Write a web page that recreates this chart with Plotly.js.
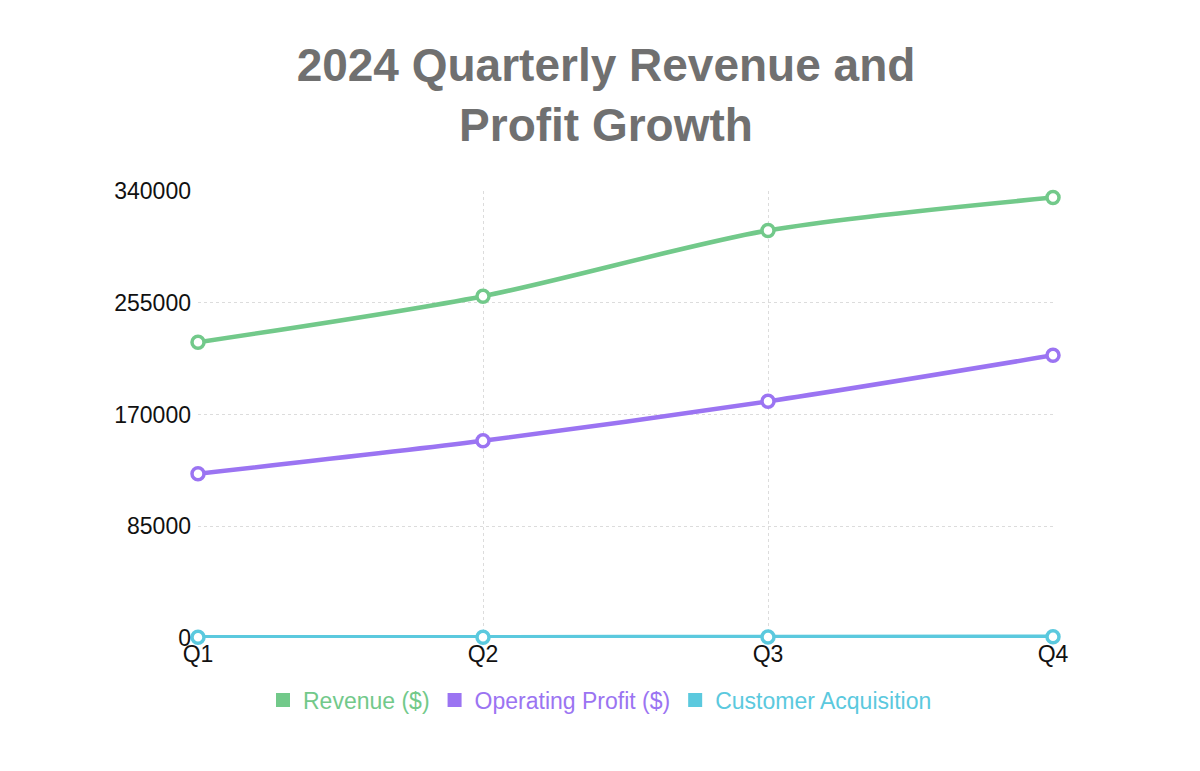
<!DOCTYPE html>
<html>
<head>
<meta charset="utf-8">
<script src="https://cdn.plot.ly/plotly-3.0.1.min.js"></script>
<style>
  html, body { margin: 0; padding: 0; background: #fff; }
  #chart { width: 1200px; height: 771px; }
</style>
</head>
<body>
<div id="chart"></div>
<script>
var quarters = ['Q1', 'Q2', 'Q3', 'Q4'];
var revenue = [225000, 260000, 310000, 335000];
var operatingProfit = [125000, 150000, 180000, 215000];
var customerAcquisition = [500, 650, 800, 950];
var yTicks = [0, 85000, 170000, 255000, 340000];

var seriesNames = ['Revenue ($)', 'Operating Profit ($)', 'Customer Acquisition'];
var seriesColors = ['#72c98a', '#9b74f2', '#5bc9de'];
var seriesValues = [revenue, operatingProfit, customerAcquisition];

var data = [];
// the lines themselves
for (var i = 0; i < seriesValues.length; i++) {
  data.push({
    x: quarters, y: seriesValues[i],
    name: seriesNames[i],
    mode: 'lines+markers',
    showlegend: false,
    cliponaxis: false,
    line: { color: seriesColors[i], width: 4.5, shape: 'spline', smoothing: 0.8 },
    marker: { symbol: 'circle', size: 12, color: '#fff', line: { color: seriesColors[i], width: 3.5 } },
    hoverinfo: 'x+y+name'
  });
}
// legend entries with square swatches
for (var j = 0; j < seriesNames.length; j++) {
  data.push({
    x: [null], y: [null],
    name: '<span style="color:' + seriesColors[j] + '">' + seriesNames[j] + '</span>',
    mode: 'markers',
    marker: { symbol: 'square', size: 14, color: seriesColors[j] },
    hoverinfo: 'skip'
  });
}

var layout = {
  width: 1200,
  height: 771,
  paper_bgcolor: '#fff',
  plot_bgcolor: '#fff',
  margin: { l: 198, r: 147, t: 191, b: 133 },
  font: { family: 'Liberation Sans, Arial, sans-serif', size: 23, color: '#111' },
  title: {
    text: '<b>2024 Quarterly Revenue and<br>Profit Growth</b>',
    font: { family: 'Liberation Sans, Arial, sans-serif', size: 46, color: '#707070' },
    xref: 'container', x: 0.505, xanchor: 'center',
    yref: 'container', y: 0.895, yanchor: 'top'
  },
  showlegend: true,
  legend: {
    orientation: 'h',
    xref: 'container', x: 0.5, xanchor: 'center',
    yref: 'container', y: 0.092, yanchor: 'middle',
    font: { size: 23 },
    itemwidth: 30,
    tracegroupgap: 0
  },
  xaxis: {
    type: 'category',
    range: [0, 3],
    showgrid: true,
    gridcolor: '#dcdcdc',
    griddash: 'dot',
    gridwidth: 1,
    zeroline: false,
    showline: false,
    ticks: '',
    ticklabelstandoff: 0,
    tickfont: { size: 23, color: '#111' },
    fixedrange: true
  },
  yaxis: {
    range: [0, 340000],
    tickvals: yTicks,
    ticktext: yTicks.map(String),
    showgrid: true,
    gridcolor: '#dcdcdc',
    griddash: 'dot',
    gridwidth: 1,
    zeroline: false,
    showline: false,
    ticks: '',
    ticklabelstandoff: 6,
    tickfont: { size: 23, color: '#111' },
    fixedrange: true
  },
  hovermode: 'closest'
};

Plotly.newPlot('chart', data, layout, { displayModeBar: false });
</script>
</body>
</html>
